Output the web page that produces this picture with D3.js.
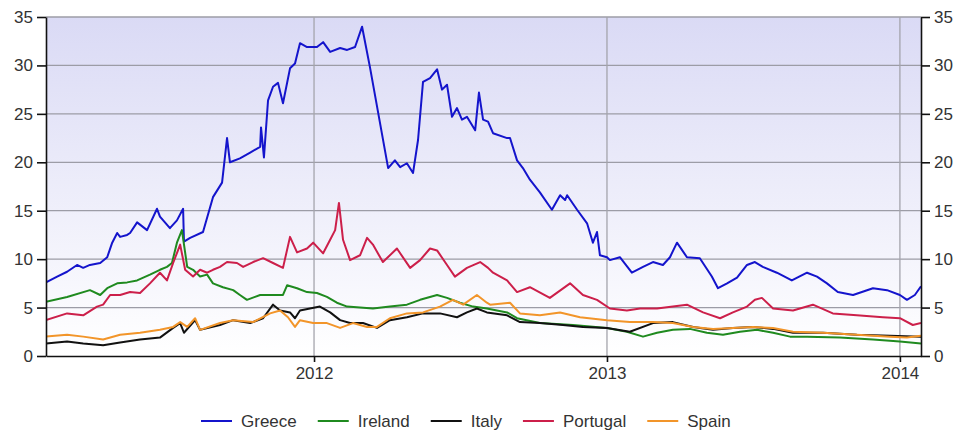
<!DOCTYPE html>
<html>
<head>
<meta charset="utf-8">
<script src="https://cdn.jsdelivr.net/npm/d3@7"></script>
<style>
  body { margin: 0; background: #fff; }
  svg { display: block; }
  text { font-family: "Liberation Sans", Arial, sans-serif; fill: #333; }
</style>
</head>
<body>
<svg id="chart" width="961" height="433"></svg>
<script>
// Ten-year government bond yields (%), dates as fractional years
const yTicks = [0, 5, 10, 15, 20, 25, 30, 35];
const xTicks = [2012, 2013, 2014];
const countries = ["Greece", "Ireland", "Italy", "Portugal", "Spain"];
const colors = ["#1414cc", "#1f8a1f", "#111111", "#cc1f4a", "#f2952a"];
const xDomain = [2011.085, 2014.072];

const greece = [
  [2011.085, 7.6], [2011.123, 8.2], [2011.157, 8.7], [2011.191, 9.4], [2011.212, 9.1], [2011.235, 9.4],
  [2011.270, 9.6], [2011.294, 10.2], [2011.311, 11.7], [2011.328, 12.7], [2011.338, 12.3], [2011.362, 12.5],
  [2011.372, 12.7], [2011.396, 13.8], [2011.430, 13.0], [2011.464, 15.2], [2011.474, 14.4], [2011.508, 13.2],
  [2011.532, 14.0], [2011.553, 15.2], [2011.556, 11.8], [2011.577, 12.2], [2011.621, 12.8], [2011.655, 16.4],
  [2011.686, 17.9], [2011.703, 22.5], [2011.713, 20.0], [2011.747, 20.4], [2011.782, 21.0], [2011.816, 21.6],
  [2011.819, 23.6], [2011.829, 20.5], [2011.843, 26.4], [2011.860, 27.8], [2011.877, 28.2], [2011.894, 26.1],
  [2011.918, 29.7], [2011.935, 30.2], [2011.952, 32.3], [2011.976, 31.9], [2012.010, 31.9], [2012.031, 32.4],
  [2012.055, 31.4], [2012.089, 31.8], [2012.113, 31.6], [2012.140, 31.9], [2012.164, 34.0], [2012.191, 29.8],
  [2012.253, 19.4], [2012.276, 20.2], [2012.294, 19.5], [2012.317, 19.9], [2012.338, 18.9], [2012.355, 22.3],
  [2012.372, 28.3], [2012.396, 28.7], [2012.420, 29.6], [2012.437, 27.5], [2012.454, 28.0], [2012.471, 24.7],
  [2012.488, 25.6], [2012.505, 24.4], [2012.522, 24.7], [2012.550, 23.3], [2012.563, 27.2], [2012.577, 24.4],
  [2012.594, 24.2], [2012.611, 23.0], [2012.659, 22.5], [2012.669, 22.5], [2012.693, 20.2], [2012.713, 19.4],
  [2012.737, 18.2], [2012.771, 16.9], [2012.812, 15.1], [2012.840, 16.6], [2012.857, 16.1], [2012.864, 16.6],
  [2012.898, 15.1], [2012.932, 13.7], [2012.952, 11.7], [2012.966, 12.8], [2012.976, 10.4], [2013.000, 10.2],
  [2013.010, 9.9], [2013.044, 10.2], [2013.085, 8.6], [2013.123, 9.2], [2013.157, 9.7], [2013.191, 9.4],
  [2013.215, 10.2], [2013.239, 11.7], [2013.273, 10.2], [2013.317, 10.1], [2013.358, 8.2], [2013.379, 7.0],
  [2013.410, 7.5], [2013.444, 8.1], [2013.478, 9.4], [2013.505, 9.7], [2013.532, 9.2], [2013.580, 8.6],
  [2013.631, 7.8], [2013.683, 8.6], [2013.717, 8.2], [2013.751, 7.5], [2013.788, 6.6], [2013.840, 6.3],
  [2013.908, 7.0], [2013.956, 6.8], [2014.000, 6.3], [2014.024, 5.8], [2014.051, 6.3], [2014.072, 7.2]
];

const ireland = [
  [2011.085, 5.6], [2011.157, 6.1], [2011.235, 6.8], [2011.270, 6.3], [2011.294, 7.0], [2011.328, 7.5],
  [2011.362, 7.6], [2011.396, 7.8], [2011.440, 8.4], [2011.474, 8.9], [2011.498, 9.2], [2011.515, 9.6],
  [2011.532, 11.7], [2011.549, 13.0], [2011.567, 9.2], [2011.587, 8.9], [2011.611, 8.2], [2011.635, 8.4],
  [2011.655, 7.5], [2011.689, 7.1], [2011.724, 6.8], [2011.747, 6.3], [2011.771, 5.8], [2011.816, 6.3],
  [2011.860, 6.3], [2011.894, 6.3], [2011.908, 7.3], [2011.942, 7.0], [2011.976, 6.6], [2012.010, 6.5],
  [2012.044, 6.1], [2012.078, 5.5], [2012.113, 5.1], [2012.157, 5.0], [2012.201, 4.9], [2012.259, 5.1],
  [2012.317, 5.3], [2012.362, 5.8], [2012.420, 6.3], [2012.454, 6.0], [2012.498, 5.5], [2012.543, 5.1],
  [2012.590, 4.9], [2012.659, 4.5], [2012.693, 3.9], [2012.771, 3.4], [2012.884, 3.2], [2013.000, 2.9],
  [2013.068, 2.5], [2013.123, 2.0], [2013.171, 2.4], [2013.225, 2.7], [2013.283, 2.8], [2013.341, 2.4],
  [2013.396, 2.2], [2013.454, 2.5], [2013.512, 2.7], [2013.567, 2.4], [2013.625, 2.0], [2013.683, 2.0],
  [2013.795, 1.9], [2013.908, 1.7], [2014.000, 1.5], [2014.072, 1.3]
];

const italy = [
  [2011.085, 1.3], [2011.157, 1.5], [2011.212, 1.3], [2011.280, 1.1], [2011.338, 1.4], [2011.406, 1.7],
  [2011.474, 1.9], [2011.519, 2.9], [2011.543, 3.4], [2011.556, 2.4], [2011.594, 3.7], [2011.611, 2.7],
  [2011.679, 3.2], [2011.724, 3.7], [2011.782, 3.4], [2011.826, 3.9], [2011.860, 5.3], [2011.884, 4.7],
  [2011.918, 4.5], [2011.935, 3.9], [2011.952, 4.7], [2011.986, 4.9], [2012.020, 5.1], [2012.055, 4.5],
  [2012.089, 3.7], [2012.123, 3.4], [2012.167, 3.4], [2012.215, 2.9], [2012.259, 3.7], [2012.317, 4.0],
  [2012.372, 4.4], [2012.430, 4.4], [2012.488, 4.0], [2012.522, 4.5], [2012.556, 4.9], [2012.590, 4.5],
  [2012.659, 4.2], [2012.703, 3.5], [2012.771, 3.4], [2012.850, 3.2], [2012.918, 3.0], [2013.000, 2.9],
  [2013.078, 2.5], [2013.157, 3.4], [2013.225, 3.5], [2013.294, 3.0], [2013.362, 2.7], [2013.430, 2.9],
  [2013.498, 3.0], [2013.567, 2.8], [2013.635, 2.4], [2013.737, 2.4], [2013.853, 2.2], [2013.966, 2.1],
  [2014.072, 2.0]
];

const portugal = [
  [2011.085, 3.7], [2011.157, 4.4], [2011.212, 4.2], [2011.259, 5.1], [2011.280, 5.3], [2011.304, 6.3],
  [2011.338, 6.3], [2011.372, 6.6], [2011.406, 6.5], [2011.440, 7.5], [2011.474, 8.6], [2011.498, 7.8],
  [2011.519, 9.6], [2011.543, 11.5], [2011.560, 8.9], [2011.587, 8.2], [2011.611, 8.9], [2011.635, 8.6],
  [2011.655, 8.9], [2011.679, 9.2], [2011.703, 9.7], [2011.737, 9.6], [2011.758, 9.2], [2011.792, 9.7],
  [2011.826, 10.1], [2011.860, 9.6], [2011.894, 9.1], [2011.918, 12.3], [2011.942, 10.7], [2011.976, 11.1],
  [2011.997, 11.7], [2012.031, 10.6], [2012.055, 12.0], [2012.072, 13.0], [2012.085, 15.8], [2012.099, 12.0],
  [2012.123, 9.9], [2012.157, 10.4], [2012.181, 12.2], [2012.201, 11.5], [2012.235, 9.7], [2012.283, 11.1],
  [2012.328, 9.1], [2012.362, 9.9], [2012.396, 11.1], [2012.420, 10.9], [2012.454, 9.4], [2012.481, 8.2],
  [2012.522, 9.1], [2012.567, 9.7], [2012.594, 9.1], [2012.611, 8.6], [2012.659, 7.8], [2012.693, 6.6],
  [2012.737, 7.1], [2012.805, 6.0], [2012.874, 7.5], [2012.918, 6.3], [2012.966, 5.8], [2013.010, 4.9],
  [2013.068, 4.7], [2013.113, 4.9], [2013.171, 4.9], [2013.225, 5.1], [2013.273, 5.3], [2013.328, 4.5],
  [2013.386, 3.9], [2013.430, 4.5], [2013.478, 5.1], [2013.505, 5.8], [2013.529, 6.0], [2013.567, 4.9],
  [2013.635, 4.7], [2013.703, 5.3], [2013.771, 4.4], [2013.853, 4.2], [2013.942, 4.0], [2014.000, 3.9],
  [2014.044, 3.2], [2014.072, 3.4]
];

const spain = [
  [2011.085, 2.0], [2011.157, 2.2], [2011.212, 2.0], [2011.280, 1.7], [2011.338, 2.2], [2011.406, 2.4],
  [2011.474, 2.7], [2011.519, 3.0], [2011.543, 3.5], [2011.567, 3.0], [2011.594, 3.9], [2011.611, 2.7],
  [2011.679, 3.4], [2011.724, 3.7], [2011.792, 3.5], [2011.850, 4.4], [2011.884, 4.7], [2011.911, 4.0],
  [2011.935, 3.0], [2011.952, 3.7], [2011.997, 3.4], [2012.044, 3.4], [2012.089, 2.9], [2012.133, 3.4],
  [2012.181, 3.0], [2012.215, 3.0], [2012.259, 3.9], [2012.317, 4.4], [2012.372, 4.5], [2012.430, 5.1],
  [2012.474, 5.8], [2012.509, 5.3], [2012.556, 6.3], [2012.590, 5.5], [2012.601, 5.3], [2012.669, 5.5],
  [2012.703, 4.4], [2012.771, 4.2], [2012.840, 4.5], [2012.908, 4.0], [2013.000, 3.7], [2013.078, 3.5],
  [2013.157, 3.5], [2013.225, 3.4], [2013.294, 3.0], [2013.362, 2.8], [2013.430, 2.9], [2013.498, 3.0],
  [2013.567, 2.9], [2013.635, 2.5], [2013.737, 2.4], [2013.853, 2.2], [2013.966, 2.0], [2014.024, 1.9],
  [2014.072, 2.1]
];

const seriesValues = [greece, ireland, italy, portugal, spain];

// ---- layout ----
const W = 961, H = 433;
const margin = { left: 46, right: 40, top: 17, bottom: 77 };
const innerW = W - margin.left - margin.right;
const innerH = H - margin.top - margin.bottom;
const fontSize = "17px";

const svg = d3.select("#chart");
const x = d3.scaleLinear().domain(xDomain).range([0, innerW]);
const y = d3.scaleLinear().domain([0, 35]).range([innerH, 0]);

const defs = svg.append("defs");
const grad = defs.append("linearGradient")
  .attr("id", "plotBg").attr("x1", 0).attr("y1", 0).attr("x2", 0).attr("y2", 1);
grad.append("stop").attr("offset", "0%").attr("stop-color", "#dadaf5");
grad.append("stop").attr("offset", "100%").attr("stop-color", "#ffffff");
defs.append("clipPath").attr("id", "plotClip")
  .append("rect").attr("width", innerW).attr("height", innerH);

const g = svg.append("g").attr("transform", `translate(${margin.left},${margin.top})`);

g.append("rect").attr("width", innerW).attr("height", innerH).attr("fill", "url(#plotBg)");

// grid
g.append("g").selectAll("line").data(yTicks.filter(d => d > 0)).join("line")
  .attr("x1", 0).attr("x2", innerW)
  .attr("y1", d => y(d)).attr("y2", d => y(d))
  .attr("stroke", "#9c9ca6").attr("stroke-width", 1.3);
g.append("g").selectAll("line").data(xTicks).join("line")
  .attr("x1", d => x(d)).attr("x2", d => x(d))
  .attr("y1", 0).attr("y2", innerH)
  .attr("stroke", "#a4a4ac").attr("stroke-width", 1.3);

// series
const line = d3.line().x(d => x(d[0])).y(d => y(d[1]));
g.append("g").attr("clip-path", "url(#plotClip)")
  .selectAll("path").data(seriesValues).join("path")
  .attr("d", line)
  .attr("fill", "none")
  .attr("stroke", (d, i) => colors[i])
  .attr("stroke-width", 2)
  .attr("stroke-linejoin", "round");

// axes
function styleAxis(sel) {
  sel.select(".domain").attr("stroke", "#111").attr("stroke-width", 1.6);
  sel.selectAll(".tick line").attr("stroke", "#111").attr("stroke-width", 1.6);
  sel.selectAll(".tick text").style("font-size", fontSize).attr("fill", "#333");
}
g.append("g")
  .call(d3.axisLeft(y).tickValues(yTicks).tickSize(9).tickSizeOuter(0).tickPadding(4))
  .call(styleAxis);
g.append("g").attr("transform", `translate(${innerW},0)`)
  .call(d3.axisRight(y).tickValues(yTicks).tickSize(9).tickSizeOuter(0).tickPadding(4))
  .call(styleAxis);
g.append("g").attr("transform", `translate(0,${innerH})`)
  .call(d3.axisBottom(x).tickValues(xTicks).tickFormat(d3.format("d")).tickSize(6).tickSizeOuter(0).tickPadding(5))
  .call(styleAxis);

// legend
const legend = svg.append("g").attr("transform", "translate(201,421)");
let cursor = 0;
countries.forEach((name, i) => {
  const item = legend.append("g").attr("transform", `translate(${cursor},0)`);
  item.append("line").attr("x1", 0).attr("x2", 31).attr("y1", 0).attr("y2", 0)
    .attr("stroke", colors[i]).attr("stroke-width", 2);
  const t = item.append("text").attr("x", 40).attr("dy", "0.35em")
    .style("font-size", fontSize).text(name);
  cursor += 40 + t.node().getComputedTextLength() + 21;
});
</script>
</body>
</html>
